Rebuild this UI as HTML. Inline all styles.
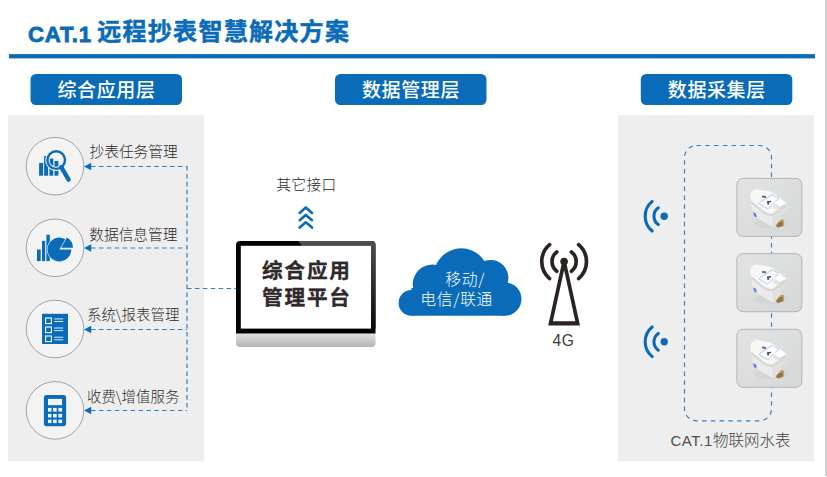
<!DOCTYPE html>
<html lang="zh-CN">
<head>
<meta charset="utf-8">
<title>CAT.1远程抄表智慧解决方案</title>
<style>
html,body{margin:0;padding:0;background:#fff;}
body{width:827px;height:477px;overflow:hidden;position:relative;font-family:"Liberation Sans","Noto Sans CJK SC",sans-serif;}
svg{position:absolute;left:0;top:0;display:block;}
text{font-family:"Liberation Sans","Noto Sans CJK SC",sans-serif;}
.cjk{font-family:"Noto Sans CJK SC","Liberation Sans",sans-serif;}
.title{font-size:24px;font-weight:700;fill:#0a6cb9;letter-spacing:1.3px;stroke:#0a6cb9;stroke-width:0.5px;}
.btn{font-size:19px;font-weight:500;fill:#fff;letter-spacing:0.6px;}
.lbl{font-size:14.7px;fill:#2e2a29;font-weight:300;}
.mon{font-size:20.6px;font-weight:700;fill:#30282a;letter-spacing:1.85px;stroke:#30282a;stroke-width:0.35px;}
.cloud{font-size:15.8px;fill:#fff;font-weight:300;letter-spacing:0.65px;}
.dash{fill:none;stroke:#2b82c9;stroke-width:1.15;stroke-dasharray:4.6 3.3;}
</style>
</head>
<body>
<svg width="827" height="477" viewBox="0 0 827 477">
<defs>
  <linearGradient id="chin" x1="0" y1="0" x2="0" y2="1">
    <stop offset="0" stop-color="#e6e6e6"/><stop offset="0.15" stop-color="#dadada"/><stop offset="1" stop-color="#b4b4b4"/>
  </linearGradient>
  <linearGradient id="gloss" x1="0" y1="0" x2="0" y2="1">
    <stop offset="0" stop-color="#4e4e4e"/><stop offset="0.5" stop-color="#2e2e2e"/><stop offset="1" stop-color="#0c0c0c"/>
  </linearGradient>
  <linearGradient id="card" x1="0" y1="0" x2="1" y2="1">
    <stop offset="0" stop-color="#e2e3e3"/><stop offset="1" stop-color="#d6d8d8"/>
  </linearGradient>
  <filter id="soft" x="-10%" y="-10%" width="120%" height="120%"><feGaussianBlur stdDeviation="0.5"/></filter>
  <g id="meter">
    <rect x="0.5" y="0.5" width="65" height="58" rx="6" fill="url(#card)" stroke="#b4b4b4" stroke-width="1"/>
    <g filter="url(#soft)">
      <ellipse cx="35" cy="45.5" rx="17" ry="5" fill="#cdcfce" opacity="0.55"/>
      <path d="M39.8 42.3 L47.1 41.8 L47.1 47.8 L42.1 49.7 L39.8 48.7 Z" fill="#9a7743"/>
      <path d="M39.8 42.3 L47.1 41.8 L47.1 43.6 L39.8 44.4 Z" fill="#c09c62"/>
      <path d="M14.4 22.9 L15.8 31.2 Q16.6 35.2 18.1 37.6 L22.7 41.3 L36.1 49.2 L38.4 48.7 L36.6 36.3 L27.8 34 Z" fill="#ebebea"/>
      <path d="M16.6 34.2 L19.6 35.6 L20.4 39.6 L17.8 38.4 Z" fill="#5f7fe0"/>
      <path d="M36 36.3 L49.9 26.6 L50.2 31.2 L49 33 L44.4 37.6 L43.9 42.3 L38.4 48.7 L36.1 49.2 Z" fill="#e0e0de"/>
      <path d="M13.9 16.9 Q14 14 17.1 12.3 Q18.6 11.4 19.9 11.3 L32.8 13.2 Q34.4 13.6 35.6 14.6 L42.1 18.7 L49.9 25.2 Q50.6 25.8 49.9 26.8 L36.4 36.3 Q35.6 36.6 34.6 36.4 L31.5 35.8 L27.8 34 L14.8 23.3 Q13.8 21 13.9 16.9 Z" fill="#f7f7f6"/>
      <path d="M15 24.4 L27.6 35 L31.4 36.8 L36 37.4 L49.8 27.8" fill="none" stroke="#d8d8d6" stroke-width="1.8"/>
      <path d="M14.8 23.3 L27.8 34 L31.5 35.8 L35.6 36.4 L49.9 26.6" fill="none" stroke="#cacac8" stroke-width="0.6"/>
      <path d="M23.3 26.3 Q22.3 25.5 23.3 24.7 L34.8 17.3 Q35.8 16.8 36.8 17.3 L42.5 20.1 L32.3 30.2 Q31.5 30.9 30.6 30.4 Z" fill="#fcfdff" stroke="#a6bfef" stroke-width="0.85"/>
      <rect x="25.5" y="17.9" width="4.3" height="2" rx="1" transform="rotate(10 27.6 18.9)" fill="#666b78"/>
      <path d="M30.6 23.4 L34.6 22.9 L34.7 24.2 L32.4 24.6 L32.9 26.5 L31 26.6 Z" fill="#43464e"/>
      <path d="M37 24.7 L43.5 28.6 L43.5 32.3 L37.3 30.3 Z" fill="#e3e3e1"/>
      <path d="M43.5 28.6 L49.6 25.5 L49.6 28 L43.5 32.3 Z" fill="#d6d6d4"/>
      <path d="M37 24.7 L43.5 22.7 L49.6 25.5 L43.5 28.6 Z" fill="#ffffff"/>
    </g>
  </g>
</defs>

<!-- title -->
<text x="28.0" y="42.3" style="font-family:'Liberation Sans',sans-serif;font-weight:700;font-size:22.2px;letter-spacing:0.75px;fill:#0a6cb9;stroke:#0a6cb9;stroke-width:0.8px;">CAT.1</text>
<text x="97.2" y="39.8" class="title cjk">远程抄表智慧解决方案</text>
<rect x="9" y="54.1" width="806" height="4.3" fill="#0a6cb9"/>
<rect x="825" y="0" width="2" height="476" fill="#d2d2d2"/>

<!-- header buttons -->
<rect x="30.5" y="74" width="151.5" height="31" rx="5.5" fill="#0a6cb9"/>
<text x="106.5" y="96.6" text-anchor="middle" class="btn cjk">综合应用层</text>
<rect x="335" y="74" width="151.5" height="31" rx="5.5" fill="#0a6cb9"/>
<text x="411" y="96.6" text-anchor="middle" class="btn cjk">数据管理层</text>
<rect x="640.8" y="74" width="151.5" height="31" rx="5.5" fill="#0a6cb9"/>
<text x="716.8" y="96.6" text-anchor="middle" class="btn cjk">数据采集层</text>

<!-- panels -->
<rect x="8" y="115.2" width="196.2" height="346.2" fill="#eeeeee"/>
<rect x="618" y="115.2" width="196.1" height="346.2" fill="#eeeeee"/>

<!-- left circles -->
<g fill="#f3f3f3" stroke="#9a9a9a" stroke-width="0.9">
  <circle cx="55" cy="166.2" r="28.8"/>
  <circle cx="55" cy="247.8" r="28.8"/>
  <circle cx="55" cy="329" r="28.8"/>
  <circle cx="55" cy="410.4" r="28.8"/>
</g>

<!-- icon 1: chart + magnifier -->
<g fill="#0a6cb9">
  <rect x="39.1" y="162.9" width="4" height="12.8"/>
  <rect x="44.1" y="156.1" width="4" height="19.6"/>
  <rect x="49.4" y="158.6" width="3.9" height="17.1"/>
  <rect x="54.5" y="161" width="3.9" height="14.7"/>
</g>
<circle cx="56.2" cy="160.1" r="10.9" fill="#f3f3f3"/>
<clipPath id="lens"><circle cx="56.2" cy="160.1" r="6.7"/></clipPath>
<g fill="#0a6cb9" clip-path="url(#lens)">
  <rect x="49.4" y="158.6" width="3.9" height="17.1"/>
  <rect x="54.5" y="161" width="3.9" height="14.7"/>
</g>
<circle cx="56.2" cy="160.1" r="8.8" fill="none" stroke="#0a6cb9" stroke-width="2.4"/>
<line x1="61.3" y1="167.2" x2="68.6" y2="179.6" stroke="#0a6cb9" stroke-width="4.3" stroke-linecap="round"/>

<!-- icon 2: bars + pie -->
<g fill="#0a6cb9">
  <rect x="37" y="249.5" width="3.7" height="11.6"/>
  <rect x="42" y="240.9" width="3.2" height="20.2"/>
  <rect x="46.4" y="234.7" width="3.4" height="26.4"/>
  <path d="M59.4 249.5 L65.35 239.19 A11.9 11.9 0 1 0 71.30 249.5 Z" stroke="#f3f3f3" stroke-width="1.1" paint-order="stroke"/>
  <path d="M61.1 247.7 L67.00 237.48 A11.8 11.8 0 0 1 72.90 247.7 Z"/>
</g>
<path d="M60.2 249.1 m-12.6 -9 a 15 15 0 0 0 0 18" fill="none" stroke="#f3f3f3" stroke-width="0"/>

<!-- icon 3: list -->
<rect x="42" y="313.8" width="26" height="30.2" fill="#0a6cb9"/>
<g fill="none" stroke="#fff" stroke-width="1.1">
  <rect x="45.6" y="318" width="5.8" height="5.6"/>
  <rect x="45.6" y="327" width="5.8" height="5.6"/>
  <rect x="45.6" y="336" width="5.8" height="5.6"/>
</g>
<g stroke="#dfeaf5" stroke-width="1">
  <line x1="54.2" y1="318.9" x2="63.2" y2="318.9"/><line x1="54.2" y1="321.5" x2="63.2" y2="321.5"/>
  <line x1="54.2" y1="328" x2="63.2" y2="328"/><line x1="54.2" y1="330.6" x2="63.2" y2="330.6"/>
  <line x1="54.2" y1="337.2" x2="63.2" y2="337.2"/><line x1="54.2" y1="339.8" x2="63.2" y2="339.8"/>
</g>

<!-- icon 4: calculator -->
<rect x="43.9" y="395.1" width="22.2" height="31.1" rx="2.6" fill="#0a6cb9"/>
<g fill="#f1f4f7">
  <rect x="48" y="398.9" width="14.1" height="6.3"/>
  <rect x="48" y="407.9" width="3.5" height="3.7"/><rect x="53.1" y="407.9" width="3.6" height="3.7"/><rect x="58.4" y="407.9" width="3.7" height="3.7"/>
  <rect x="48" y="413.9" width="3.5" height="3.6"/><rect x="53.1" y="413.9" width="3.6" height="3.6"/><rect x="58.4" y="413.9" width="3.7" height="3.6"/>
  <rect x="48" y="419.6" width="3.5" height="3.5"/><rect x="53.1" y="419.6" width="3.6" height="3.5"/><rect x="58.4" y="419.6" width="3.7" height="3.5"/>
</g>

<!-- left labels -->
<text x="89.5" y="156.6" class="lbl cjk">抄表任务管理</text>
<text x="89.3" y="240" class="lbl cjk">数据信息管理</text>
<text x="87" y="320.4" class="lbl cjk" style="font-size:14.45px">系统\报表管理</text>
<text x="87" y="401.6" class="lbl cjk" style="font-size:14.45px">收费\增值服务</text>

<!-- dashed connectors -->
<path class="dash" d="M91 166.5 H187"/>
<path class="dash" d="M91 248 H187"/>
<path class="dash" d="M91 329.5 H187"/>
<path class="dash" d="M91 410.5 H187"/>
<path class="dash" d="M187 166 V411" style="stroke-width:1.2"/>
<path class="dash" d="M187 288.5 H236.5"/>
<g fill="#0a6cb9">
  <path d="M84 166.5 L91.2 162.8 V170.2 Z"/>
  <path d="M84 248 L91.2 244.3 V251.7 Z"/>
  <path d="M84 329.5 L91.2 325.8 V333.2 Z"/>
  <path d="M84 410.5 L91.2 406.8 V414.2 Z"/>
</g>

<!-- middle -->
<text x="306.4" y="190.4" text-anchor="middle" class="lbl cjk" style="font-size:14.7px;letter-spacing:0.35px">其它接口</text>
<g fill="none" stroke="#0a6cb9" stroke-width="2.6" stroke-linecap="round" stroke-linejoin="round">
  <path d="M299.7 212.9 L305.8 207.6 L312 212.9"/>
  <path d="M299.7 220.2 L305.8 214.9 L312 220.2"/>
  <path d="M299.7 227.6 L305.8 222.3 L312 227.6"/>
</g>

<!-- monitor -->
<path d="M236 333.4 H375.5 V343 Q375.5 347 371.5 347 H240 Q236 347 236 343 Z" fill="url(#chin)"/>
<path d="M240 241 H371.5 Q375.5 241 375.5 245 V333.6 H236 V245 Q236 241 240 241 Z" fill="#000"/>
<path d="M298 241 H371.5 Q375.5 241 375.5 245 V328.6 H371 V245.8 H302 Z" fill="url(#gloss)"/>
<rect x="240.8" y="245.8" width="130.2" height="82.8" fill="#fff"/>
<text x="306.9" y="278.3" text-anchor="middle" class="mon cjk">综合应用</text>
<text x="306.9" y="305.4" text-anchor="middle" class="mon cjk">管理平台</text>

<!-- cloud -->
<g fill="#0a6cb9">
  <circle cx="411.4" cy="302.9" r="12.8"/>
  <circle cx="432.7" cy="284.5" r="20"/>
  <circle cx="461.3" cy="275.9" r="27.6"/>
  <circle cx="490.6" cy="277.8" r="17.8"/>
  <circle cx="504.9" cy="299.1" r="16.6"/>
  <rect x="411.4" y="288" width="93.5" height="27.7"/>
</g>
<text x="465.2" y="285.4" text-anchor="middle" class="cloud cjk">移动/</text>
<text x="456.7" y="305.2" text-anchor="middle" class="cloud cjk">电信/联通</text>

<!-- antenna -->
<path fill="#2a2322" fill-rule="evenodd" d="M548.2 325.5 L562.1 262 H566.1 L580 325.5 Z M552.9 321.3 H575.3 L564.1 270 Z"/>
<g fill="none" stroke="#2a2322" stroke-width="3.7" stroke-linecap="round">
  <path d="M556.8 252 A12 12 0 0 0 556.8 271.2"/>
  <path d="M571.4 252 A12 12 0 0 1 571.4 271.2"/>
  <path d="M549.6 244.6 A22.3 22.3 0 0 0 549.6 278.6"/>
  <path d="M578.6 244.6 A22.3 22.3 0 0 1 578.6 278.6"/>
</g>
<circle cx="564.1" cy="261.6" r="3.8" fill="#2a2322"/>
<text x="563.4" y="346.3" text-anchor="middle" style="font-size:15.6px;letter-spacing:0.6px;fill:#3e3a39;">4G</text>

<!-- right panel content -->
<rect x="684.5" y="145.5" width="87" height="275.3" rx="12" class="dash" style="stroke-dasharray:4.5 4.3"/>
<use href="#meter" x="736.4" y="177.9"/>
<use href="#meter" x="736.4" y="253.2"/>
<use href="#meter" x="736.4" y="328.8"/>

<g id="wifi1" fill="none" stroke="#0a6cb9" stroke-width="3.1" stroke-linecap="round">
  <path d="M658.3 207.8 A10.3 10.3 0 0 0 658.3 224.6"/>
  <path d="M652.2 201.4 A19.1 19.1 0 0 0 652.2 231.0"/>
  <circle cx="664.2" cy="216.2" r="3.7" fill="#0a6cb9" stroke="none"/>
</g>
<use href="#wifi1" y="125.6"/>

<text x="670.4" y="446.4" style="fill:#464342;"><tspan style="font-size:15px;letter-spacing:0.55px;fill:#504d4c;">CAT.1</tspan><tspan class="cjk" style="font-size:15.5px;font-weight:300;">物联网水表</tspan></text>
</svg>
</body>
</html>
